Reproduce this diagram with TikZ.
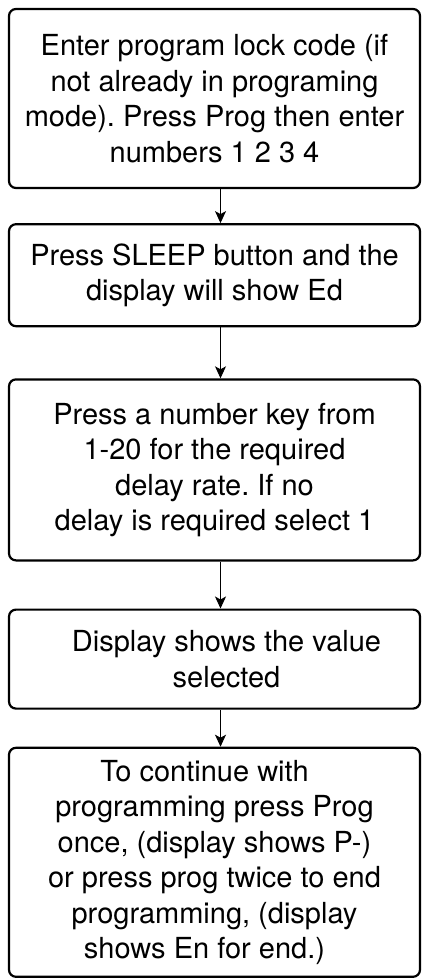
\documentclass[tikz,border=0pt]{standalone}
\usepackage{fontspec}
\setmainfont{TeX Gyre Heros}
\usetikzlibrary{positioning,arrows.meta}
\frenchspacing

\tikzset{
  stepbox/.style={draw,line width=2.2pt,rounded corners=7pt,minimum width=411pt,
    inner sep=0pt,align=center,font=\fontsize{29}{35.5}\selectfont},
  flow/.style={line width=1pt,-{Stealth[length=12pt,width=11pt,inset=3pt]}}
}

\begin{document}
\begin{tikzpicture}
  \useasboundingbox (0,0) rectangle (423pt,-979pt);
  \node[stepbox,minimum height=179pt] (code) at (214.5pt,-98.5pt)
    {Enter program lock code (if\\not already in programing\\mode). Press Prog then enter\\numbers 1 2 3 4};
  \node[stepbox,minimum height=102pt,below=34pt of code] (sleep)
    {Press SLEEP button and the\\display will show Ed};
  \node[stepbox,minimum height=181pt,below=51pt of sleep] (delay)
    {Press a number key from\\1-20 for the required\\delay rate. If no\\delay is required select 1};
  \node[stepbox,minimum height=99pt,below=47pt of delay] (value)
    {\hspace*{24pt}Display shows the value\\\hspace*{24pt}selected};
  \node[stepbox,minimum height=229pt,below=37pt of value] (cont)
    {To continue with\hspace*{20pt}\\programming press Prog\hspace*{20pt}\\once, (display shows P-)\hspace*{20pt}\\or press prog twice to end\hspace*{20pt}\\programming, (display\hspace*{20pt}\\shows En for end.)\hspace*{20pt}};
  % arrows sit a little right of the box centres
  \draw[flow] ([xshift=6pt]code.south) -- ([xshift=6pt]sleep.north);
  \draw[flow] ([xshift=6pt]sleep.south) -- ([xshift=6pt]delay.north);
  \draw[flow] ([xshift=6pt]delay.south) -- ([xshift=6pt]value.north);
  \draw[flow] ([xshift=6pt]value.south) -- ([xshift=6pt]cont.north);
\end{tikzpicture}
\end{document}
